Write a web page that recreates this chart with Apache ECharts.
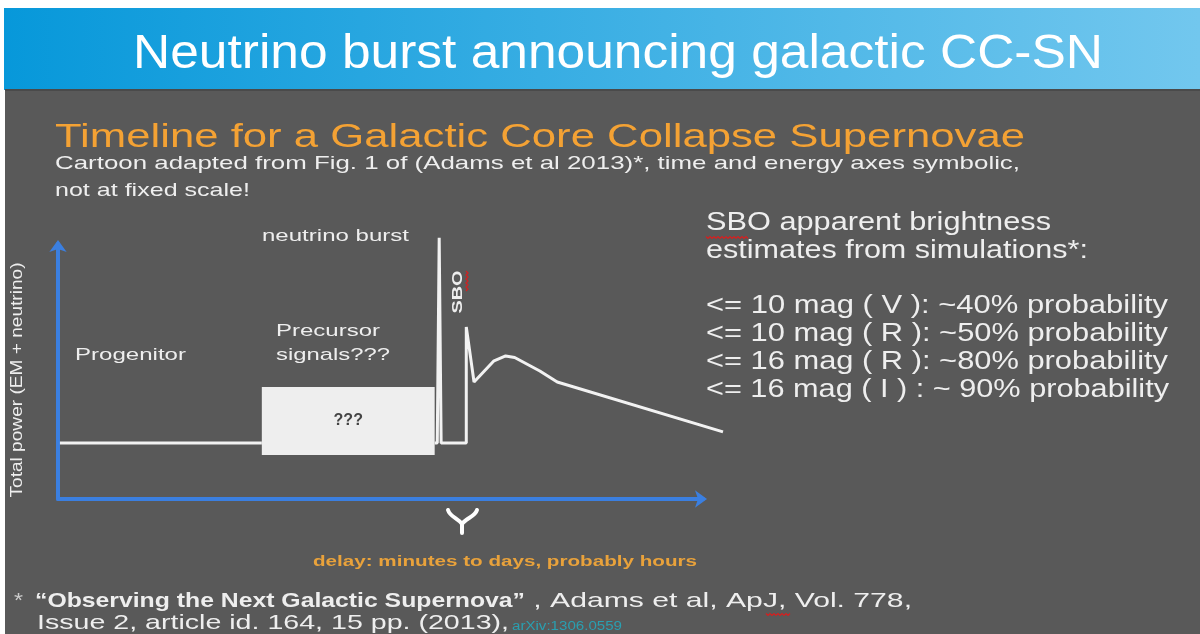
<!DOCTYPE html>
<html>
<head>
<meta charset="utf-8">
<script src="https://cdn.jsdelivr.net/npm/echarts@6/dist/echarts.min.js"></script>
<style>
	html, body { margin: 0; padding: 0; background: #ffffff; }
	#slide { width: 1200px; height: 634px; }
</style>
</head>
<body>
<div id="slide"></div>
<script>
// cartoon light curve: symbolic time (0..100 along the axis) and symbolic power
const curveTime  = [0.3, 31.6, null, 58.4, 58.8, 59.1, 59.4, 63.3, 63.3, 64.5, 67.6, 69.4, 70.8, 74.7, 77.4, 103.1];
const curvePower = [22, 22, null, 22, 22, 102.4, 22, 22, 67.5, 45.9, 54.2, 56.1, 55.5, 50.2, 45.9, 26.3];

// precursor box ("???")
const boxTime  = [31.6, 58.4];
const boxPower = [17.3, 43.9];

const sboLines = [
	'<= 10 mag ( V ): ~40% probability',
	'<= 10 mag ( R ): ~50% probability',
	'<= 16 mag ( R ): ~80% probability',
	'<= 16 mag ( I ) : ~ 90% probability'
];

const SANS = '"Liberation Sans", Arial, sans-serif';
const NARROW = '"Liberation Sans Narrow", "Liberation Sans", sans-serif';
const TXT = '#eeeeee';

// axis scale: px per symbolic unit, shared by the drawn axes and the (wider) data grid
const PX_T = 6.45;
const PX_P = 2.55;
const AX_LEFT = 58;
const AX_BOTTOM = 135;
const DATA_MAX = 104;

let measureCtx = document.createElement('canvas').getContext('2d');

// text placed by left edge + baseline, stretched to the width seen on the slide
function txt(str, x, base, size, width, o) {
	o = o || {};
	let weight = o.weight || 'normal';
	let family = o.family || SANS;
	measureCtx.font = weight + ' ' + size + 'px ' + family;
	let sx = width / measureCtx.measureText(str).width;
	return {
		type: 'text',
		x: x,
		y: base - size * 0.35,
		scaleX: sx,
		silent: true,
		z: 10,
		style: {
			text: str,
			fill: o.color || TXT,
			fontSize: size,
			fontWeight: weight,
			fontFamily: family,
			textAlign: 'left',
			textVerticalAlign: 'middle',
			textDecoration: o.underline ? 'underline' : 'none'
		}
	};
}

// vertical text, reading upwards, centred on (cx, cy)
function vtxt(str, cx, cy, size, len, o) {
	o = o || {};
	let weight = o.weight || 'normal';
	measureCtx.font = weight + ' ' + size + 'px ' + SANS;
	let sx = len / measureCtx.measureText(str).width;
	return {
		type: 'text',
		x: cx,
		y: cy,
		rotation: Math.PI / 2,
		scaleX: sx,
		silent: true,
		z: 10,
		style: {
			text: str,
			fill: o.color || TXT,
			fontSize: size,
			fontWeight: weight,
			fontFamily: SANS,
			textAlign: 'center',
			textVerticalAlign: 'middle'
		}
	};
}

// red spell-check wave
function squiggle(pts) {
	return { type: 'polyline', silent: true, z: 11, shape: { points: pts }, style: { stroke: '#d42020', lineWidth: 1.2, fill: null } };
}
function hWave(x0, x1, y) {
	let pts = [];
	for (let x = x0, k = 0; x <= x1; x += 2, k++)
		pts.push([x, y + (k % 2 ? 1.5 : -0.5)]);
	return squiggle(pts);
}
function vWave(x, y0, y1) {
	let pts = [];
	for (let y = y0, k = 0; y <= y1; y += 2, k++)
		pts.push([x + (k % 2 ? 1.5 : -0.5), y]);
	return squiggle(pts);
}

let lineData = curveTime.map((t, i) => t === null ? ['-', '-'] : [t, curvePower[i]]);

let graphics = [
	// slide background
	{ type: 'rect', z: 0, silent: true, shape: { x: 0, y: 0, width: 1200, height: 634 }, style: { fill: '#ffffff' } },
	{ type: 'rect', z: 1, silent: true, shape: { x: 5, y: 90, width: 1195, height: 544 }, style: { fill: '#595959' } },
	{
		type: 'rect', z: 1, silent: true,
		shape: { x: 4, y: 8, width: 1196, height: 82 },
		style: {
			fill: new echarts.graphic.LinearGradient(0, 0, 1, 0, [
				{ offset: 0, color: '#0798da' },
				{ offset: 1, color: '#72c7ee' }
			])
		}
	},
	{ type: 'rect', z: 1, silent: true, shape: { x: 5, y: 89, width: 1195, height: 2 }, style: { fill: '#4a4a4a' } },

	txt('Neutrino burst announcing galactic CC-SN', 133, 72, 48, 970, { color: '#ffffff', family: NARROW }),
	txt('Timeline for a Galactic Core Collapse Supernovae', 55, 150, 34, 970, { color: '#f4a234' }),
	txt('Cartoon adapted from Fig. 1 of (Adams et al 2013)*, time and energy axes symbolic,', 55, 170, 19, 965),
	txt('not at fixed scale!', 55, 197, 19, 195),

	// annotations inside the cartoon
	txt('neutrino burst', 262, 242, 17, 147),
	txt('Progenitor', 75, 361, 17, 111),
	txt('Precursor', 276, 337, 17, 104),
	txt('signals???', 276, 361, 17, 114),
	vtxt('Total power (EM + neutrino)', 17, 380, 17, 235),
	vtxt('SBO', 458, 292, 15, 43, { weight: 'bold' }),
	vWave(466.5, 271, 291),

	// delay brace under the axis
	{ type: 'bezierCurve', z: 10, silent: true, shape: { x1: 448, y1: 510, cpx1: 450, cpy1: 517, cpx2: 458, cpy2: 518, x2: 462, y2: 524 }, style: { stroke: '#ffffff', lineWidth: 4, fill: null, lineCap: 'round' } },
	{ type: 'bezierCurve', z: 10, silent: true, shape: { x1: 477, y1: 510, cpx1: 475, cpy1: 517, cpx2: 466, cpy2: 518, x2: 462, y2: 524 }, style: { stroke: '#ffffff', lineWidth: 4, fill: null, lineCap: 'round' } },
	{ type: 'line', z: 10, silent: true, shape: { x1: 462, y1: 523, x2: 462, y2: 533 }, style: { stroke: '#ffffff', lineWidth: 4, lineCap: 'round' } },
	txt('delay: minutes to days, probably hours', 313, 567, 15, 384, { weight: 'bold', color: '#e9a23b' }),

	// SBO brightness box on the right
	txt('SBO apparent brightness', 706, 232, 25, 345),
	hWave(706, 748, 237),
	txt('estimates from simulations*:', 706, 260, 25, 382),

	// reference
	txt('*', 14, 609, 21, 9, { color: '#cccccc' }),
	txt('\u201cObserving the Next Galactic Supernova\u201d', 35, 609, 21, 490, { weight: 'bold' }),
	txt(' , Adams et al, ApJ, Vol. 778,', 525, 609, 21, 387),
	hWave(766, 790, 614),
	txt('Issue 2, article id. 164, 15 pp. (2013),', 37, 631, 21, 472),
	txt('arXiv:1306.0559', 512, 631, 12, 110, { color: '#2a9fb0', underline: true })
];

sboLines.forEach((s, i) => {
	graphics.push(txt(s, 706, 315 + i * 28, 25, i === 3 ? 463 : 462));
});

let chart = echarts.init(document.getElementById('slide'));

let axisLineStyle = {
	show: true,
	symbol: ['none', 'arrow'],
	symbolSize: [13, 12],
	symbolOffset: [0, 4],
	lineStyle: { color: '#3b7fe0', width: 4, cap: 'round' }
};

let option = {
	animation: false,
	backgroundColor: 'transparent',
	graphic: { elements: graphics },
	grid: [
		// drawn axes, 0..100
		{ left: AX_LEFT, bottom: AX_BOTTOM, width: 100 * PX_T, height: 100 * PX_P },
		// same scale, a little wider so the curve can run past the arrow as on the slide
		{ left: AX_LEFT, bottom: AX_BOTTOM, width: DATA_MAX * PX_T, height: DATA_MAX * PX_P }
	],
	xAxis: [
		{ type: 'value', gridIndex: 0, min: 0, max: 100, z: 5, axisLine: axisLineStyle, axisTick: { show: false }, axisLabel: { show: false }, splitLine: { show: false } },
		{ type: 'value', gridIndex: 1, min: 0, max: DATA_MAX, show: false, splitLine: { show: false } }
	],
	yAxis: [
		{ type: 'value', gridIndex: 0, min: 0, max: 100, z: 5, axisLine: axisLineStyle, axisTick: { show: false }, axisLabel: { show: false }, splitLine: { show: false } },
		{ type: 'value', gridIndex: 1, min: 0, max: DATA_MAX, show: false, splitLine: { show: false } }
	],
	series: [{
		type: 'line',
		xAxisIndex: 1,
		yAxisIndex: 1,
		z: 6,
		data: lineData,
		symbol: 'none',
		silent: true,
		connectNulls: false,
		lineStyle: { color: '#f2f2f2', width: 3 },
		markArea: {
			silent: true,
			itemStyle: { color: '#eeeeee', opacity: 1 },
			label: {
				show: true,
				position: 'inside',
				formatter: '???',
				color: '#444444',
				fontWeight: 'bold',
				fontSize: 16,
				fontFamily: SANS
			},
			data: [[
				{ coord: [boxTime[0], boxPower[0]] },
				{ coord: [boxTime[1], boxPower[1]] }
			]]
		}
	}]
};

chart.setOption(option);
</script>
</body>
</html>
